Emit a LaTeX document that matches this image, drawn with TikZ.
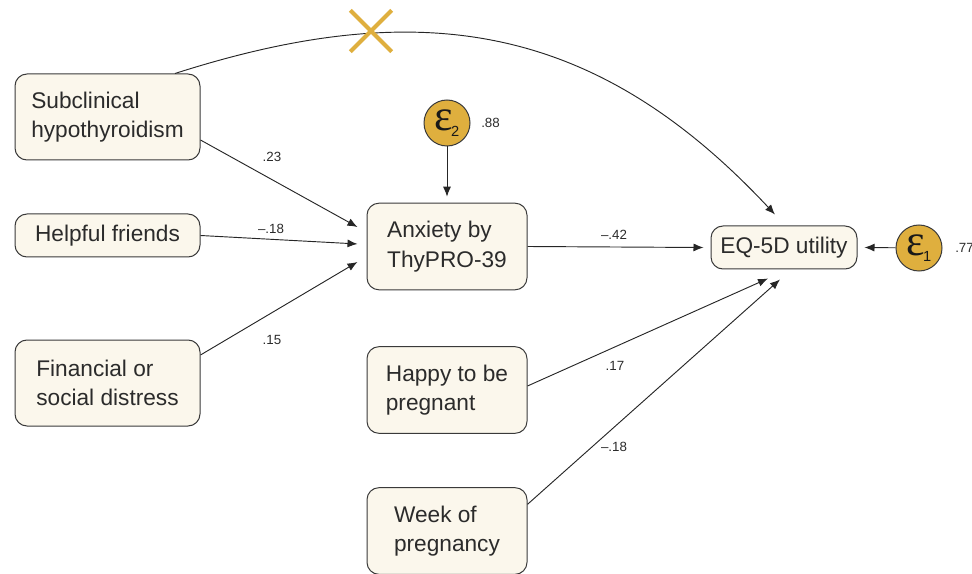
\documentclass[tikz,border=0pt]{standalone}
\usepackage{fontspec}
\setmainfont{Liberation Sans}
\newfontfamily\epsfont{Liberation Serif}
\usepackage{tikz}
\usetikzlibrary{
	arrows.meta,									% 提供各种箭头样式
	shapes.misc,									% 其他形状
}
\definecolor{boxfill}{HTML}{FBF7EC}
\definecolor{boxline}{HTML}{3A3A3A}
\definecolor{errgold}{HTML}{DFAF3E}
\definecolor{inktext}{HTML}{2B2B2B}
\newcommand{\errterm}[1]{{\epsfont\fontsize{33}{33}\selectfont ε}\kern-1.5pt\raisebox{-4pt}{\fontsize{11}{11}\selectfont #1}}

\begin{document}
\begin{tikzpicture}[x=0.75pt, y=-0.75pt,
		varbox/.style={draw=boxline, fill=boxfill, line width=0.75pt, rounded corners=9pt, align=left, text=inktext, font=\fontsize{17}{22}\selectfont},
		widebox/.style={varbox, minimum width=138.75pt},
		midbox/.style={varbox, minimum width=120pt, minimum height=65pt},
		errnode/.style={circle, draw=boxline, fill=errgold, line width=0.75pt, minimum size=34.5pt, inner sep=0pt, text=black!90},
		link/.style={draw=black!85, line width=0.7pt, -{Latex[length=7.5pt,width=6pt]}},
		coef/.style={font=\fontsize{10}{12}\selectfont, text=inktext, inner sep=0pt},
	]
		\useasboundingbox (0,0) rectangle (972,574);
		\node [widebox, minimum height=64.5pt] (sub) at (107.5,117) {Subclinical\\hypothyroidism};
		\node [widebox, minimum height=32.25pt] (help) at (107.5,235.5) {Helpful friends};
		\node [widebox, minimum height=64.5pt] (fin) at (107.5,383) {Financial or\\social distress};
		\node [midbox] (anx) at (447,246.5) {Anxiety by\\ThyPRO-39};
		\node [midbox] (hap) at (447,390) {Happy to be\\pregnant};
		\node [midbox] (week) at (447,531) {Week of\\pregnancy};
		\node [varbox, minimum width=109.5pt, minimum height=32.25pt] (eq) at (784,247.5) {EQ-5D utility};
		\node [errnode] (e2) at (447,123) {\errterm{2}};
		\node [errnode] (e1) at (919,248) {\errterm{1}};
		\draw [link] ([yshift=-17.25pt]sub.east) -- ([xshift=-6.75pt,yshift=14.6pt]anx.west);
		\draw [link] (help.east) -- ([xshift=-6.75pt,yshift=1.9pt]anx.west);
		\draw [link] ([yshift=21pt]fin.east) -- ([xshift=-6.75pt,yshift=-11.6pt]anx.west);
		\draw [link] (anx.east) -- ([xshift=-5.25pt]eq.west);
		\draw [link] ([yshift=3pt]hap.east) -- ([xshift=-12pt,yshift=-6.75pt]eq.south);
		\draw [link] ([yshift=20pt]week.east) -- ([xshift=-3pt,yshift=-7.5pt]eq.south);
		\draw [link] (e2) -- ([yshift=4.5pt]anx.north);
		\draw [link] (e1) -- ([xshift=5.25pt]eq.east);
		\draw [link] ([xshift=50.6pt]sub.north) .. controls (420,-5) and (595,22) .. ([xshift=-6.75pt,yshift=8.25pt]eq.north);
		\node [cross out, draw=errgold, line width=3pt, minimum size=28pt, inner sep=0pt] (cut) at (371,31) {};
		\node [coef] (w1) at (272,157) {.23};
		\node [coef] (w2) at (271,229) {–.18};
		\node [coef] (w3) at (272,340) {.15};
		\node [coef] (w4) at (614,235) {–.42};
		\node [coef] (w5) at (615,366) {.17};
		\node [coef] (w6) at (614,447) {–.18};
		\node [coef, anchor=west] (w7) at (481,123) {.88};
		\node [coef, anchor=west] (w8) at (955,248) {.77};
	\end{tikzpicture}
\end{document}
